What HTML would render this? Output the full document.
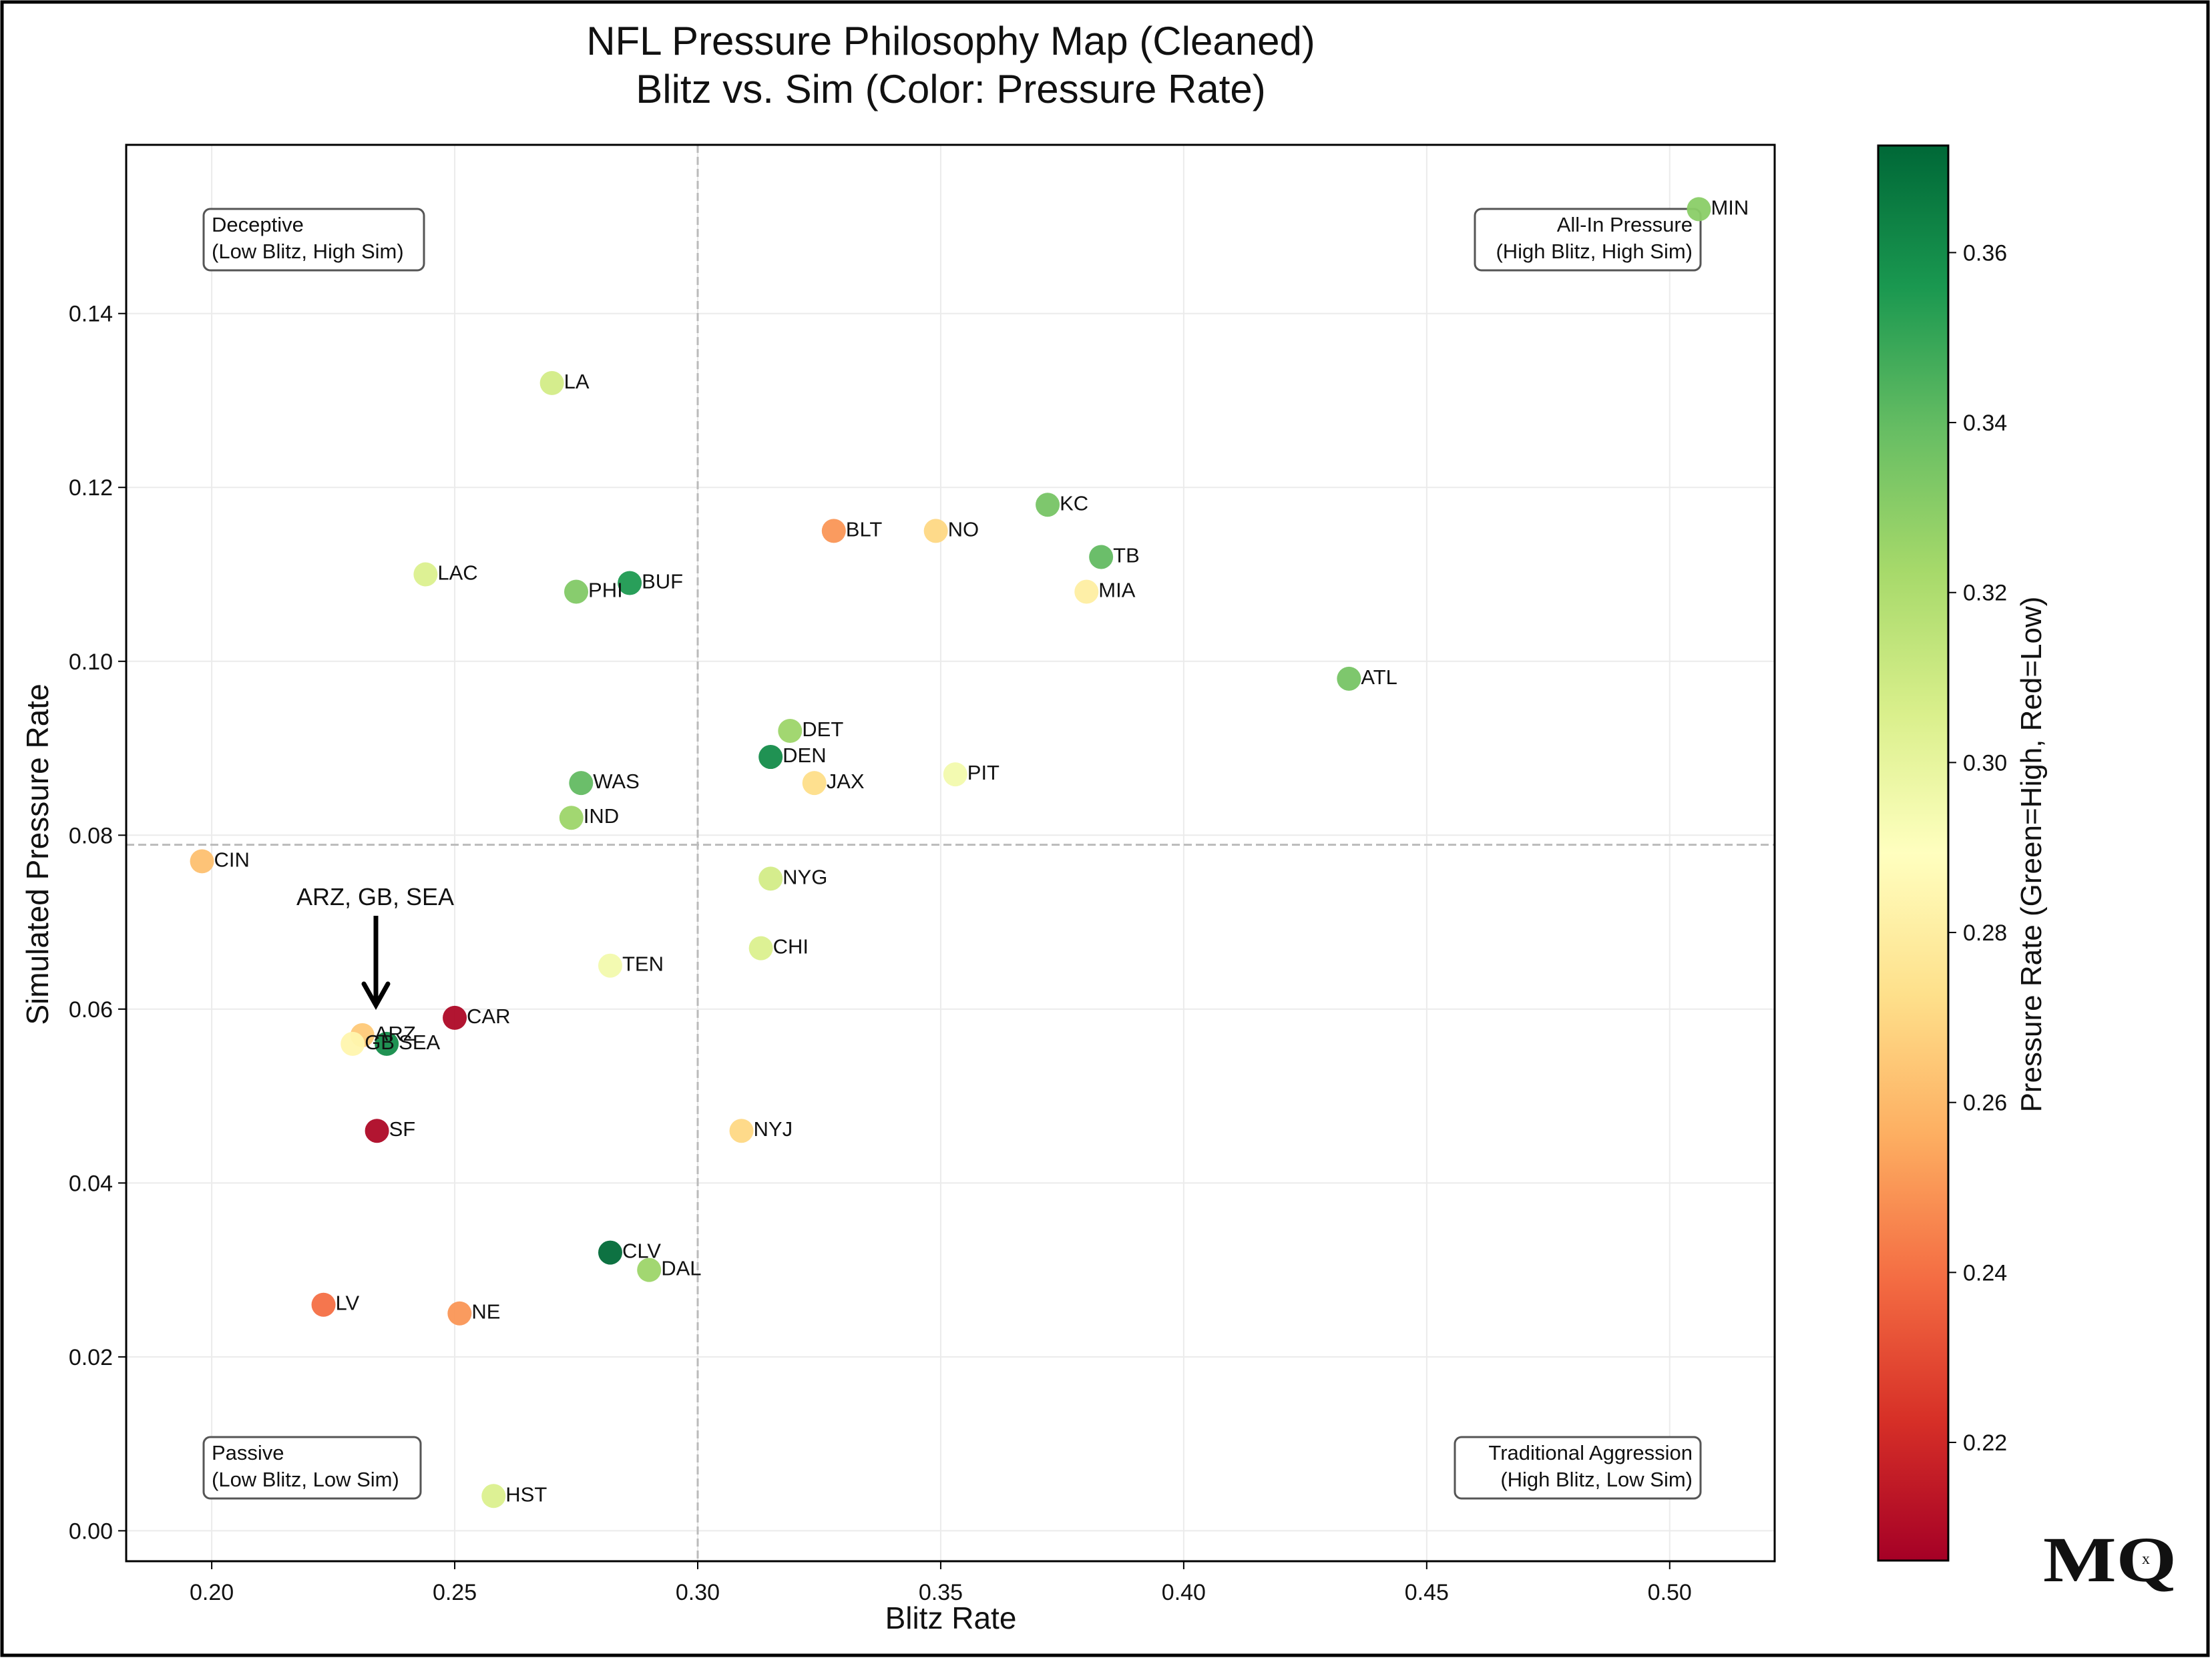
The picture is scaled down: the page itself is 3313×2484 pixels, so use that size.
<!DOCTYPE html>
<html><head><meta charset="utf-8"><style>
html,body{margin:0;padding:0;background:#fff}
svg{display:block}
text{font-family:"Liberation Sans",sans-serif;fill:#111}
</style></head><body>
<svg id="chart" width="3313" height="2484" viewBox="0 0 3313 2484" xmlns="http://www.w3.org/2000/svg">
<defs>
<linearGradient id="cbgrad" x1="0" y1="1" x2="0" y2="0">
<stop offset="0" stop-color="#a50026"/><stop offset="0.1" stop-color="#d73027"/><stop offset="0.2" stop-color="#f46d43"/><stop offset="0.3" stop-color="#fdae61"/><stop offset="0.4" stop-color="#fee08b"/><stop offset="0.5" stop-color="#ffffbf"/><stop offset="0.6" stop-color="#d9ef8b"/><stop offset="0.7" stop-color="#a6d96a"/><stop offset="0.8" stop-color="#66bd63"/><stop offset="0.9" stop-color="#1a9850"/><stop offset="1" stop-color="#006837"/>
</linearGradient>
</defs>
<rect x="3" y="3" width="3304" height="2477" fill="#fff" stroke="#000" stroke-width="5"/>
<text x="1424" y="82" font-size="60" text-anchor="middle">NFL Pressure Philosophy Map (Cleaned)</text>
<text x="1424" y="154" font-size="60" text-anchor="middle">Blitz vs. Sim (Color: Pressure Rate)</text>
<g id="grid"></g>
<g id="refs"></g>
<g id="axes"></g>
<g id="quad"></g>
<g id="pts"></g>
<g id="cb"></g>
<g>
<text x="562" y="1356" font-size="36" text-anchor="middle">ARZ, GB, SEA</text>
<line x1="563" y1="1372" x2="563" y2="1500" stroke="#000" stroke-width="7"/>
<polyline points="545,1474 563,1506 581,1474" fill="none" stroke="#000" stroke-width="7" stroke-linecap="round"/>
</g>
<g>
<text x="3060" y="2369" font-size="96" font-weight="bold" textLength="200" lengthAdjust="spacingAndGlyphs" style="font-family:'Liberation Serif',serif">MQ</text>
<text x="3214" y="2343" font-size="24" text-anchor="middle" style="font-family:'Liberation Serif',serif">x</text>
</g>
</svg>
<script>
const teams=["MIN","LA","KC","BLT","NO","TB","LAC","PHI","BUF","MIA","ATL","DET","DEN","JAX","PIT","WAS","IND","CIN","NYG","CHI","TEN","CAR","ARZ","GB","SEA","SF","NYJ","CLV","DAL","LV","NE","HST"];
const blitz=[0.506,0.270,0.372,0.328,0.349,0.383,0.244,0.275,0.286,0.380,0.434,0.319,0.315,0.324,0.353,0.276,0.274,0.198,0.315,0.313,0.282,0.250,0.231,0.229,0.236,0.234,0.309,0.282,0.290,0.223,0.251,0.258];
const sim=[0.152,0.132,0.118,0.115,0.115,0.112,0.110,0.108,0.109,0.108,0.098,0.092,0.089,0.086,0.087,0.086,0.082,0.077,0.075,0.067,0.065,0.059,0.057,0.056,0.056,0.046,0.046,0.032,0.030,0.026,0.025,0.004];
const pressure=[0.330,0.308,0.335,0.250,0.270,0.340,0.305,0.332,0.355,0.280,0.335,0.325,0.360,0.272,0.295,0.340,0.325,0.262,0.308,0.305,0.295,0.209,0.265,0.284,0.360,0.209,0.270,0.372,0.325,0.240,0.250,0.305];
const xTicks=[0.20,0.25,0.30,0.35,0.40,0.45,0.50];
const yTicks=[0.00,0.02,0.04,0.06,0.08,0.10,0.12,0.14];
const cbTicks=[0.22,0.24,0.26,0.28,0.30,0.32,0.34,0.36];
const refX=0.30, refY=0.0789;
const NS="http://www.w3.org/2000/svg";
const PL=189,PR=2658,PT=217,PB=2339;
const xMin=0.1824,xMax=0.5216,yMin=-0.0035,yMax=0.1594;
const cMin=0.2061,cMax=0.3726,CBL=2813,CBR=2918,CBT=218,CBB=2338;
const xs=v=>PL+(v-xMin)/(xMax-xMin)*(PR-PL);
const ys=v=>PB-(v-yMin)/(yMax-yMin)*(PB-PT);
const cs=v=>CBB-(v-cMin)/(cMax-cMin)*(CBB-CBT);
const stops=["#a50026","#d73027","#f46d43","#fdae61","#fee08b","#ffffbf","#d9ef8b","#a6d96a","#66bd63","#1a9850","#006837"];
function hex(h){return [1,3,5].map(i=>parseInt(h.substr(i,2),16));}
function cmap(v){let t=(v-cMin)/(cMax-cMin);t=Math.max(0,Math.min(1,t));const p=t*10,i=Math.min(9,Math.floor(p)),f=p-i;const a=hex(stops[i]),b=hex(stops[i+1]);return "rgb("+a.map((c,k)=>Math.round(c+(b[k]-c)*f)).join(",")+")";}
function mk(tag,attrs,parent,txt){const e=document.createElementNS(NS,tag);for(const k in attrs)e.setAttribute(k,attrs[k]);if(txt!==undefined)e.textContent=txt;parent.appendChild(e);return e;}
const grid=document.getElementById('grid'),axes=document.getElementById('axes'),refs=document.getElementById('refs'),pts=document.getElementById('pts'),cb=document.getElementById('cb'),quad=document.getElementById('quad');
xTicks.forEach(v=>{const x=xs(v);
 const g=mk('line',{x1:x,y1:PT,x2:x,y2:PB,stroke:'#ebebeb','stroke-width':2},grid);
 
 
 const t=mk('line',{x1:x,y1:PB,x2:x,y2:PB+12,stroke:'#000','stroke-width':2},axes);
 
 
 const l=mk('text',{x:x,y:PB+58,'font-size':34,'text-anchor':'middle'},axes,v.toFixed(2));
 
 
});
yTicks.forEach(v=>{const y=ys(v);
 const g=mk('line',{x1:PL,y1:y,x2:PR,y2:y,stroke:'#ebebeb','stroke-width':2},grid);
 
 
 const t=mk('line',{x1:PL-12,y1:y,x2:PL,y2:y,stroke:'#000','stroke-width':2},axes);
 
 
 const l=mk('text',{x:PL-20,y:y+12,'font-size':34,'text-anchor':'end'},axes,v.toFixed(2));
 
 
});
const rv=mk('line',{x1:xs(refX),y1:PT,x2:xs(refX),y2:PB,stroke:'#bbb','stroke-width':3,'stroke-dasharray':'12,6'},refs);


const rh=mk('line',{x1:PL,y1:ys(refY),x2:PR,y2:ys(refY),stroke:'#bbb','stroke-width':3,'stroke-dasharray':'12,6'},refs);


const fr=mk('rect',{x:PL,y:PT,width:PR-PL,height:PB-PT,fill:'none',stroke:'#000','stroke-width':3},axes);


const xl=mk('text',{x:1424,y:2440,'font-size':46,'text-anchor':'middle'},axes,'Blitz Rate');


const yl=mk('text',{x:72,y:1280,'font-size':46,'text-anchor':'middle',transform:'rotate(-90 72 1280)'},axes,'Simulated Pressure Rate');


const boxes=[["Deceptive","(Low Blitz, High Sim)",305,313,330,'start'],["All-In Pressure","(High Blitz, High Sim)",2209,313,338,'end'],["Passive","(Low Blitz, Low Sim)",305,2153,325,'start'],["Traditional Aggression","(High Blitz, Low Sim)",2179,2153,368,'end']];
boxes.forEach(b=>{const g=mk('g',{},quad);
 
 
 mk('rect',{x:b[2],y:b[3],width:b[4],height:92,rx:10,fill:'#fff',stroke:'#555','stroke-width':3},g);
 const tx=b[5]==='start'?b[2]+12:b[2]+b[4]-12;
 mk('text',{x:tx,y:b[3]+34,'font-size':31,'text-anchor':b[5]},g,b[0]);
 mk('text',{x:tx,y:b[3]+74,'font-size':31,'text-anchor':b[5]},g,b[1]);
});
teams.forEach((t,i)=>{const x=xs(blitz[i]),y=ys(sim[i]);
 const c=mk('circle',{cx:x,cy:y,r:18,fill:cmap(pressure[i]),'fill-opacity':0.95},pts);
 
 
});
teams.forEach((t,i)=>{const x=xs(blitz[i]),y=ys(sim[i]);
 const l=mk('text',{x:x+18,y:y+8,'font-size':31},pts,t);
 
 
});
const cr=mk('rect',{x:CBL,y:CBT,width:CBR-CBL,height:CBB-CBT,fill:'url(#cbgrad)',stroke:'#000','stroke-width':3},cb);


cbTicks.forEach(v=>{const y=cs(v);
 const t=mk('line',{x1:CBR,y1:y,x2:CBR+12,y2:y,stroke:'#000','stroke-width':2},cb);
 
 
 const l=mk('text',{x:CBR+22,y:y+12,'font-size':34},cb,v.toFixed(2));
 
 
});
const cl=mk('text',{x:3057,y:1280,'font-size':44,'text-anchor':'middle',transform:'rotate(-90 3057 1280)'},cb,'Pressure Rate (Green=High, Red=Low)');


</script>
</body></html>
